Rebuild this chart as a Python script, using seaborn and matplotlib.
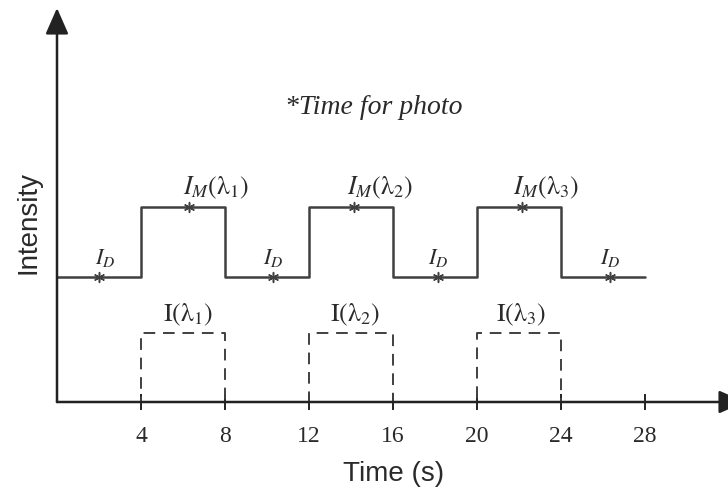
"""
Timing diagram: detector intensity vs time, with light pulses and photo instants.
"""

import numpy as np
import pandas as pd
import matplotlib
matplotlib.use("Agg")
import matplotlib.pyplot as plt
import seaborn as sns

# signal levels (arbitrary intensity units)
LEVEL_D = 1.81     # dark level I_D
LEVEL_M = 2.83     # measured level I_M
LEVEL_PULSE = 1.0  # illumination pulse I(lambda)

# step edges in seconds and the level held after each edge
step_times = [0, 4, 8, 12, 16, 20, 24, 28]
measured_levels = [LEVEL_D, LEVEL_M, LEVEL_D, LEVEL_M, LEVEL_D, LEVEL_M, LEVEL_D, LEVEL_D]
pulse_levels = [0, LEVEL_PULSE, 0, LEVEL_PULSE, 0, LEVEL_PULSE, 0, 0]

# instants when a photo is taken
photo_times = [2.0, 6.29, 10.29, 14.14, 18.14, 22.14, 26.33]
photo_levels = [LEVEL_D, LEVEL_M, LEVEL_D, LEVEL_M, LEVEL_D, LEVEL_M, LEVEL_D]

dark_label_x = [2.3, 10.3, 18.15, 26.35]
meas_label_x = [6.0, 13.8, 21.7]      # left edge of the I_M labels
pulse_label_x = [6.24, 14.2, 22.1]
wavelength_idx = [1, 2, 3]

x_ticks = [4, 8, 12, 16, 20, 24, 28]

sns.set_theme(style="white")
plt.rcParams["font.family"] = ["Liberation Serif", "DejaVu Serif"]
plt.rcParams["mathtext.fontset"] = "stix"

line_color = "#404040"
axis_color = "#222222"
text_color = "#2a2a2a"

signal = pd.DataFrame({"time": step_times, "level": measured_levels})
pulse = pd.DataFrame({"time": step_times, "level": pulse_levels})
photos = pd.DataFrame({"time": photo_times, "level": photo_levels})

fig = plt.figure(figsize=(7.28, 4.9), dpi=100)
# axes run a little past the right edge so the x arrow is cut like the original
ax = fig.add_axes([57 / 728, 88 / 490, (745 - 57) / 728, 394 / 490])

sns.lineplot(data=pulse, x="time", y="level", ax=ax, estimator=None, sort=False,
             drawstyle="steps-post", color=line_color, lw=1.4,
             dashes=False, linestyle=(0, (6, 4)))
sns.lineplot(data=signal, x="time", y="level", ax=ax, estimator=None, sort=False,
             drawstyle="steps-post", color=line_color, lw=1.8)
sns.scatterplot(data=photos, x="time", y="level", ax=ax, marker=(6, 2, 0),
                s=50, color=line_color, linewidth=1.1, zorder=5)

for x in dark_label_x:
    ax.text(x, LEVEL_D + 0.12, r"$I_D$", ha="center", va="bottom",
            fontsize=16, color=text_color)
for x, k in zip(meas_label_x, wavelength_idx):
    ax.text(x, LEVEL_M + 0.08, r"$I_M(\mathrm{\lambda}_%d)$" % k, ha="left",
            va="bottom", fontsize=18.5, color=text_color)
for x, k in zip(pulse_label_x, wavelength_idx):
    ax.text(x, LEVEL_PULSE + 0.07, r"$\mathrm{I}(\mathrm{\lambda}_%d)$" % k,
            ha="center", va="bottom", fontsize=18.5, color=text_color)

ax.text(15.1, 4.27, "*Time for photo", ha="center", va="center",
        fontsize=20, style="italic", color=text_color)

ax.set_xlim(0, (745 - 57) / 21)
ax.set_ylim(0, 394 / 69)
for side in ["top", "right", "left", "bottom"]:
    ax.spines[side].set_visible(False)

# axes drawn as arrows
head = "-|>,head_length=0.5,head_width=0.22"
ax.annotate("", xy=(1.0, 0), xytext=(0, 0), xycoords="axes fraction",
            arrowprops=dict(arrowstyle=head, color=axis_color, lw=1.8,
                            mutation_scale=32, shrinkA=0, shrinkB=0),
            annotation_clip=False)
ax.annotate("", xy=(0, 1.0), xytext=(0, 0), xycoords="axes fraction",
            arrowprops=dict(arrowstyle=head, color=axis_color, lw=1.8,
                            mutation_scale=32, shrinkA=0, shrinkB=0),
            annotation_clip=False)

ax.set_xticks(x_ticks)
ax.set_xticklabels([str(t) for t in x_ticks])
ax.set_yticks([])
ax.tick_params(axis="x", bottom=True, direction="inout", length=11, width=1.4,
               color=axis_color, labelsize=17, pad=12, labelcolor=text_color)

ax.set_xlabel("Time (s)", fontsize=20, family="Liberation Sans", color=text_color)
ax.xaxis.set_label_coords((394 - 57) / 688, -(461 - 402) / 394)
ax.set_ylabel("Intensity", fontsize=20, family="Liberation Sans", color=text_color)
ax.yaxis.set_label_coords(-(57 - 41) / 688, (402 - 222) / 394)

fig.savefig("out.png", dpi=100)
